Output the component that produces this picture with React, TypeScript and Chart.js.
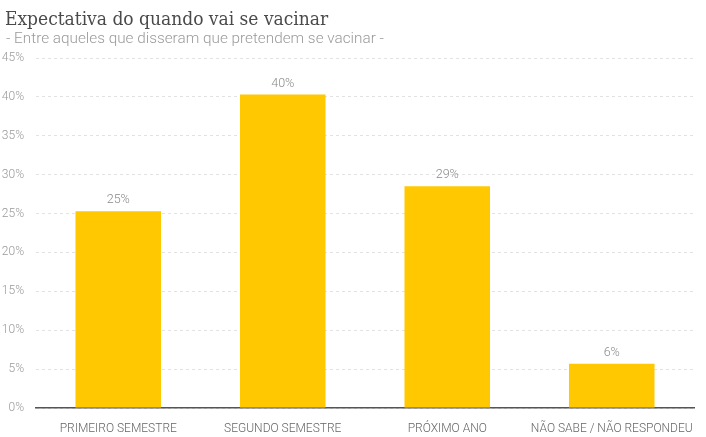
import React, { useEffect, useRef } from "react";
import { Chart, registerables } from "chart.js";

Chart.register(...registerables);

const titleText = "Expectativa do quando vai se vacinar";
const subtitleText = "- Entre aqueles que disseram que pretendem se vacinar -";
const categories = ["PRIMEIRO SEMESTRE", "SEGUNDO SEMESTRE", "PRÓXIMO ANO", "NÃO SABE / NÃO RESPONDEU"];
const values = [25.3, 40.3, 28.5, 5.7];
const labels = ["25%", "40%", "29%", "6%"];

const headerPlugin = {
  id: "header",
  afterDraw(chart: any) {
    const ctx = chart.ctx;
    ctx.save();
    ctx.textAlign = "left";
    ctx.textBaseline = "alphabetic";
    ctx.fillStyle = "#4a4a4a";
    ctx.font = "19px 'DejaVu Serif Condensed', 'DejaVu Serif'";
    ctx.fillText(titleText, 5, 25);
    ctx.fillStyle = "#9a9a9a";
    ctx.font = "300 15.3px 'Roboto'";
    ctx.fillText(subtitleText, 6, 43);
    ctx.restore();
  },
};

const valueLabelPlugin = {
  id: "valueLabels",
  afterDatasetsDraw(chart: any) {
    const ctx = chart.ctx;
    const meta = chart.getDatasetMeta(0);
    ctx.save();
    ctx.textAlign = "center";
    ctx.textBaseline = "alphabetic";
    ctx.fillStyle = "#8a8a8a";
    ctx.font = "300 12.5px 'Roboto'";
    meta.data.forEach((bar: any, i: number) => {
      ctx.fillText(labels[i], bar.x, bar.y - 8);
    });
    ctx.restore();
  },
};

export default function App() {
  const ref = useRef<HTMLCanvasElement>(null);
  useEffect(() => {
    document.body.style.margin = "0";
    const chart = new Chart(ref.current!, {
      type: "bar",
      data: {
        labels: categories,
        datasets: [
          {
            data: values,
            backgroundColor: "#ffc800",
            barPercentage: 0.52,
            categoryPercentage: 1,
          },
        ],
      },
      options: {
        animation: false,
        responsive: false,
        layout: { padding: { top: 58, right: 12, left: 0, bottom: 0 } },
        plugins: { legend: { display: false }, tooltip: { enabled: false } },
        scales: {
          x: {
            grid: { display: false },
            border: { display: true, color: "#555", width: 1.5 },
            ticks: {
              color: "#666",
              font: { family: "Roboto", size: 12, weight: 300 },
              maxRotation: 0,
              autoSkip: false,
              padding: 6,
            },
            afterFit(scale: any) {
              scale.height = 29;
            },
          },
          y: {
            min: 0,
            max: 45,
            border: { display: false, dash: [3, 3] },
            grid: { color: "#e2e2e2", drawTicks: false, lineWidth: 1 },
            ticks: {
              stepSize: 5,
              color: "#999",
              padding: 12,
              font: { family: "Roboto", size: 12, weight: 300 },
              callback: (v: any) => v + "%",
            },
            afterFit(scale: any) {
              scale.width = 36;
            },
          },
        },
      },
      plugins: [headerPlugin, valueLabelPlugin],
    });
    return () => chart.destroy();
  }, []);
  return <canvas ref={ref} width={706} height={437} style={{ display: "block" }} />;
}
